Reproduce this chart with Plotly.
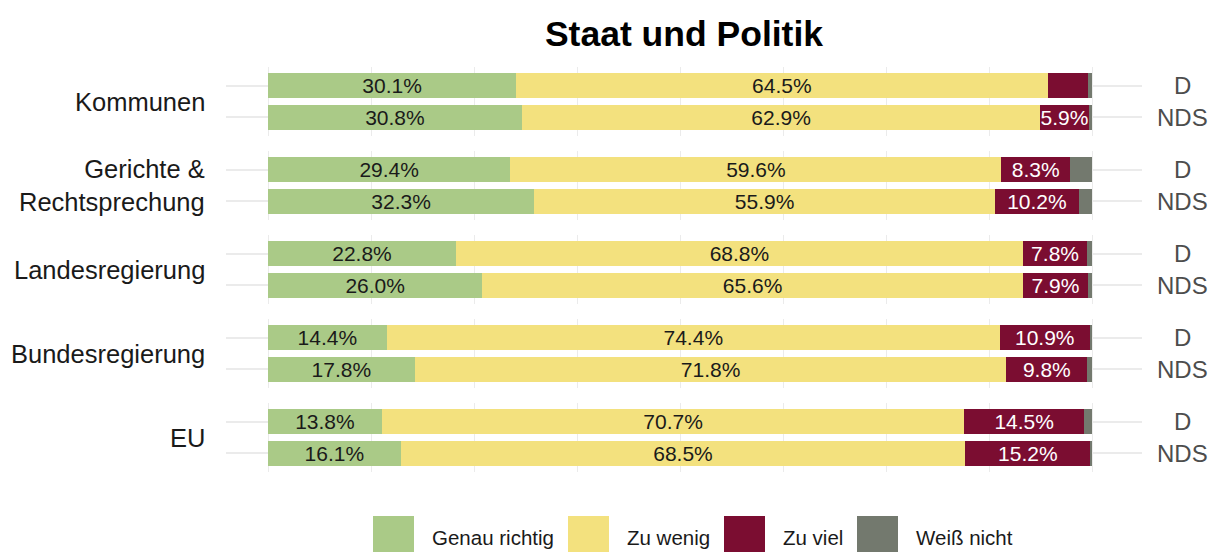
import plotly.graph_objects as go
from plotly.subplots import make_subplots

# ---- data ----
groups = ["Kommunen", "Gerichte &<br>Rechtsprechung", "Landesregierung", "Bundesregierung", "EU"]
regions = ["D", "NDS"]
categories = ["Genau richtig", "Zu wenig", "Zu viel", "Weiß nicht"]

genau_D = [30.1, 29.4, 22.8, 14.4, 13.8]
genau_NDS = [30.8, 32.3, 26.0, 17.8, 16.1]
wenig_D = [64.5, 59.6, 68.8, 74.4, 70.7]
wenig_NDS = [62.9, 55.9, 65.6, 71.8, 68.5]
viel_D = [4.9, 8.3, 7.8, 10.9, 14.5]
viel_NDS = [5.9, 10.2, 7.9, 9.8, 15.2]
weiss_D = [0.5, 2.7, 0.6, 0.3, 1.0]
weiss_NDS = [0.4, 1.6, 0.5, 0.6, 0.2]

series_D = [genau_D, wenig_D, viel_D, weiss_D]
series_NDS = [genau_NDS, wenig_NDS, viel_NDS, weiss_NDS]

# ---- style ----
colors = ["#AACA87", "#F3E17E", "#7B0D31", "#73796E"]
text_colors = ["#1A1A1A", "#1A1A1A", "#FFFFFF", "#FFFFFF"]
FONT = "Liberation Sans, Arial, sans-serif"
W, H = 1211, 552
ML, MR, MT, MB = 226, 69, 67, 80
PW = W - ML - MR
PH = H - MT - MB
GRID = "#EBEBEB"

n = len(groups)
fig = make_subplots(rows=n, cols=1, shared_xaxes=True, vertical_spacing=15 / PH)

for gi in range(n):
    row = gi + 1
    for ci, cat in enumerate(categories):
        vals = [series_D[ci][gi], series_NDS[ci][gi]]
        fig.add_trace(
            go.Bar(
                y=regions,
                x=vals,
                orientation="h",
                name=cat,
                marker=dict(color=colors[ci], line=dict(width=0)),
                text=[f"{v:.1f}%" if v >= 5 else "" for v in vals],
                textposition="inside",
                insidetextanchor="middle",
                textangle=0,
                textfont=dict(family=FONT, size=21, color=text_colors[ci]),
                showlegend=False,
                hoverinfo="skip",
            ),
            row=row,
            col=1,
        )
    fig.update_yaxes(
        type="category",
        categoryorder="array",
        categoryarray=["NDS", "D"],
        range=[-0.6, 1.6],
        showticklabels=False,
        showgrid=True,
        gridcolor=GRID,
        gridwidth=1.5,
        zeroline=False,
        showline=False,
        ticks="",
        row=row,
        col=1,
    )
    yref = "y" if row == 1 else f"y{row}"
    # strip label on the left
    fig.add_annotation(
        text=groups[gi], xref="paper", x=(207 - ML) / PW, xanchor="right",
        yref=f"{yref} domain", y=0.5, yanchor="middle", showarrow=False,
        align="right", font=dict(family=FONT, size=25.5, color="#1A1A1A"),
    )
    # right-side axis labels
    for r in regions:
        fig.add_annotation(
            text=r, xref="paper", x=(1182 - ML) / PW, xanchor="center",
            yref=yref, y=r, yanchor="middle", showarrow=False,
            font=dict(family=FONT, size=24, color="#4D4D4D"),
        )

fig.update_xaxes(
    range=[-5.1, 106.05],
    dtick=12.5,
    tick0=0,
    showticklabels=False,
    showgrid=True,
    gridcolor=GRID,
    gridwidth=1.2,
    zeroline=False,
    showline=False,
    ticks="",
)

# ---- legend (manual, large keys) ----
legend_x = [373, 568, 724, 857]
key_w = 41
for ci, cat in enumerate(categories):
    x0 = (legend_x[ci] - ML) / PW
    x1 = (legend_x[ci] + key_w - ML) / PW
    fig.add_shape(
        type="rect", xref="paper", yref="paper",
        x0=x0, x1=x1, y0=(PH + MT - 516) / PH, y1=(PH + MT - 560) / PH,
        fillcolor=colors[ci], line=dict(width=0), layer="above",
    )
    fig.add_annotation(
        text=cat, xref="paper", x=(legend_x[ci] + key_w + 16 - ML) / PW, xanchor="left",
        yref="paper", y=(PH + MT - 537) / PH, yanchor="middle", showarrow=False,
        font=dict(family=FONT, size=20.5, color="#1A1A1A"),
    )

fig.update_layout(
    barmode="stack",
    bargap=0.2,
    width=W,
    height=H,
    margin=dict(l=ML, r=MR, t=MT, b=MB, autoexpand=False),
    plot_bgcolor="white",
    paper_bgcolor="white",
    title=dict(
        text="<b>Staat und Politik</b>",
        x=684 / W, xanchor="center",
        y=1 - 34 / H, yanchor="middle",
        font=dict(family=FONT, size=35.5, color="#000000"),
    ),
    uniformtext=dict(minsize=21, mode="show"),
    font=dict(family=FONT),
)

fig.write_html(
    "out.html",
    config={"displayModeBar": False},
    post_script="document.body.style.margin='0';document.body.style.padding='0';",
)
